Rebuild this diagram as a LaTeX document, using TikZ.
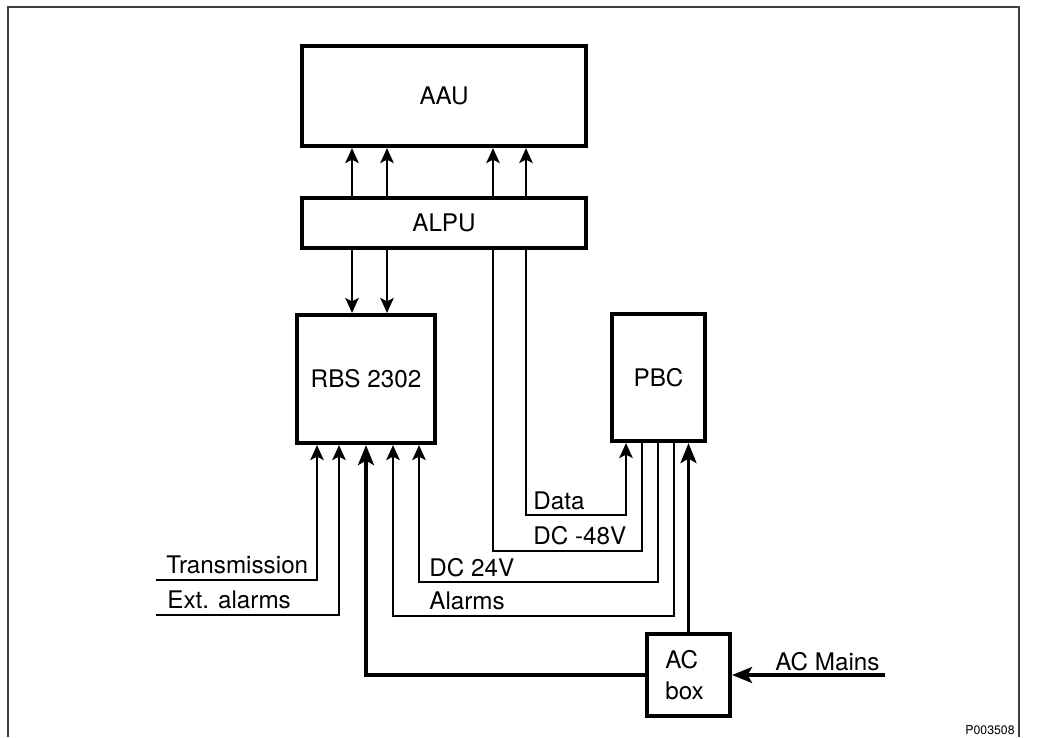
\documentclass[tikz,border=0pt]{standalone}
\usepackage{fontspec}
\setmainfont{TeX Gyre Heros}
\usetikzlibrary{
  positioning,
  arrows.meta
}

\begin{document}
\begin{tikzpicture}[
  x=0.02cm, y=-0.02cm,
  >={Stealth[length=3mm, width=2.7mm, inset=0.7mm]},
  blk/.style={
    rectangle, draw, line width=2.4pt, inner sep=0pt, align=center,
    font=\fontsize{13.8}{18}\selectfont
  },
  wire/.style={line width=1.1pt},
  feed/.style={line width=1.8pt, -{Stealth[length=4mm, width=3.2mm, inset=0.9mm]}},
  lbl/.style={anchor=base west, inner sep=0pt, font=\fontsize{13.8}{16}\selectfont}
]

\useasboundingbox (0,0) rectangle (1037,737);
\draw[black!75, line width=0.9pt] (8,737) -- (8,7) -- (1019,7) -- (1019,737);

\node[blk, minimum width=5.68cm, minimum height=2cm] (aau) at (444,96) {AAU};
\node[blk, minimum width=5.68cm, minimum height=1cm,
  below=0.96cm of aau] (alpu) {ALPU};
\node[blk, minimum width=2.76cm, minimum height=2.56cm] (rbs) at (366,379) {RBS 2302};
\node[blk, minimum width=1.86cm, minimum height=2.54cm] (pbc) at (658.5,377.5) {PBC};
\node[blk, minimum width=1.66cm, minimum height=1.64cm, align=left]
  (acbox) at (688.5,675) {AC\\box\hspace*{0.16cm}};

\coordinate (trin) at (156,580);
\coordinate (extin) at (156,615);
\coordinate (mains) at (885,675);

% ALPU <-> AAU / RBS
\draw[wire, ->] (352,0 |- alpu.north) -- (352,0 |- aau.south);
\draw[wire, ->] (387,0 |- alpu.north) -- (387,0 |- aau.south);
\draw[wire, ->] (493,0 |- alpu.north) -- (493,0 |- aau.south);
\draw[wire, ->] (526,0 |- alpu.north) -- (526,0 |- aau.south);
\draw[wire, ->] (352,0 |- alpu.south) -- (352,0 |- rbs.north);
\draw[wire, ->] (387,0 |- alpu.south) -- (387,0 |- rbs.north);

% ALPU -> PBC
\draw[wire, ->] (526,0 |- alpu.south) -- (526,515) -| (626,0 |- pbc.south);
\draw[wire] (493,0 |- alpu.south) -- (493,551) -| (642,0 |- pbc.south);

% PBC -> RBS
\draw[wire, ->] (658,0 |- pbc.south) -- (658,582) -| (419,0 |- rbs.south);
\draw[wire, ->] (674,0 |- pbc.south) -- (674,616) -| (393,0 |- rbs.south);

% external inputs
\draw[wire, ->] (trin) -| (317,0 |- rbs.south);
\draw[wire, ->] (extin) -| (339,0 |- rbs.south);

% AC box
\draw[feed] (acbox.west) -| (366,0 |- rbs.south);
\draw[feed] (acbox.north) -- (acbox.north |- pbc.south);
\draw[feed] (mains) -- (acbox.east);

\node[lbl] (ldata) at (533,509) {Data};
\node[lbl] (ldcneg) at (533,544) {DC -48V};
\node[lbl] (ldcpos) at (429,576) {DC 24V};
\node[lbl] (lalarm) at (429,609) {Alarms};
\node[lbl] (ltrans) at (166,573) {Transmission};
\node[lbl] (lextal) at (167,608) {Ext. alarms};
\node[lbl] (lmains) at (775,670) {AC Mains};
\node[anchor=base east, inner sep=0pt, font=\fontsize{7}{8}\selectfont]
  (pnum) at (1015,734) {P003508};

\end{tikzpicture}
\end{document}
